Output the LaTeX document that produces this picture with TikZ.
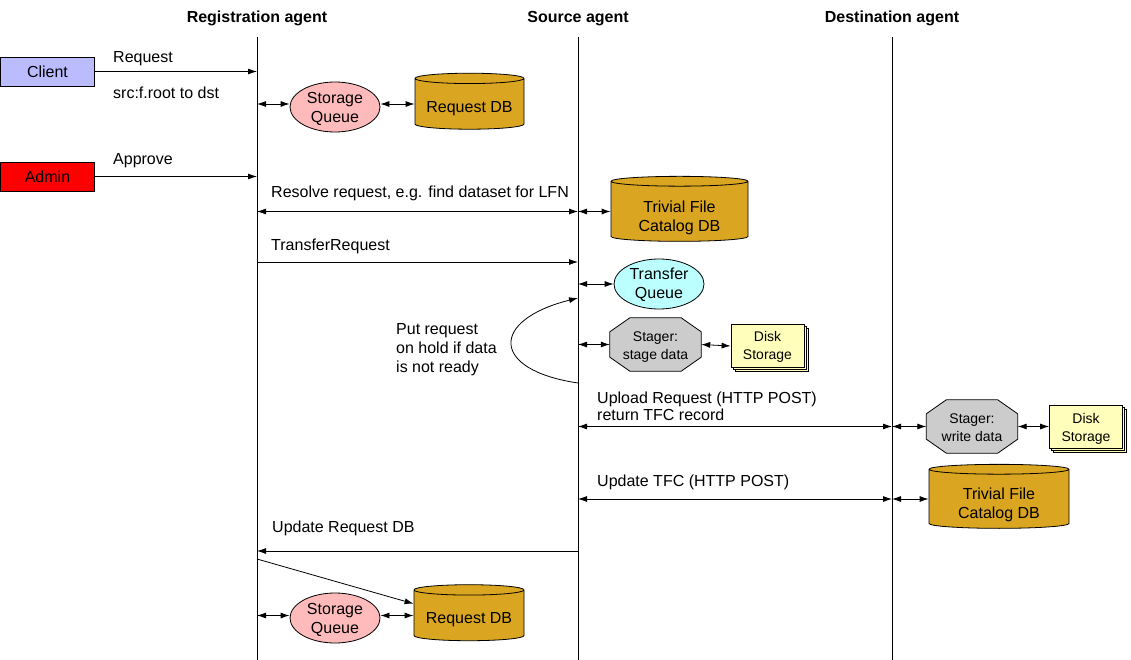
\documentclass[tikz,border=0pt]{standalone}
\usepackage{fontspec}
\setmainfont{Liberation Sans}
\usetikzlibrary{arrows.meta,shapes.geometric,shadows,calc,backgrounds}
\definecolor{clientblue}{HTML}{BBBBFF}
\definecolor{adminred}{HTML}{FF0000}
\definecolor{sqpink}{HTML}{FFBBBB}
\definecolor{dbgold}{HTML}{DAA520}
\definecolor{tqcyan}{HTML}{BBFFFF}
\definecolor{stgray}{HTML}{CCCCCC}
\definecolor{diskyel}{HTML}{FFFFBB}
\newcommand{\octfill}[1]{%
  \begin{scope}[on background layer]
  \filldraw[octo] ($(#1.north west)+(20,0)$) -- ($(#1.north east)+(-20,0)$)
    -- ($(#1.north east)+(0,14)$) -- ($(#1.south east)+(0,-14)$)
    -- ($(#1.south east)+(-20,0)$) -- ($(#1.south west)+(20,0)$)
    -- ($(#1.south west)+(0,-14)$) -- ($(#1.north west)+(0,14)$) -- cycle;
  \end{scope}}
\newcommand{\dtext}[2]{\raisebox{-#1pt}[0pt][0pt]{\begin{tabular}{@{}c@{}}#2\end{tabular}}}
\begin{document}
\begin{tikzpicture}[x=1pt,y=-1pt,
  every node/.style={font=\fontsize{16}{19}\selectfont, inner sep=0pt},
  lbl/.style={anchor=base west},
  hdr/.style={font=\fontsize{16}{19}\selectfont\bfseries, anchor=base},
  life/.style={line width=1pt},
  conn/.style={line width=0.8pt, -{Latex[length=9,width=6]}},
  bi/.style={line width=0.8pt, {Latex[length=9,width=6]}-{Latex[length=9,width=6]}},
  actor/.style={draw, line width=0.8pt, minimum width=94, minimum height=29},
  queue/.style={ellipse, draw, line width=0.8pt, minimum width=90, minimum height=50},
  db/.style={cylinder, shape border rotate=90, draw, line width=0.8pt, fill=dbgold, aspect=0.12},
  stager/.style={rectangle, minimum width=91, minimum height=53, font=\fontsize{14}{18}\selectfont},
  octo/.style={draw, line width=0.8pt, fill=stgray},
  disk/.style={draw, line width=0.8pt, fill=diskyel, minimum width=73, minimum height=43, font=\fontsize{14}{18}\selectfont, double copy shadow={shadow xshift=2pt, shadow yshift=-2pt}},
]
\useasboundingbox (0,0) rectangle (1131,660);

% headers and lifelines
\node[hdr] (hreg) at (257,23) {Registration agent};
\node[hdr] (hsrc) at (578,23) {Source agent};
\node[hdr] (hdst) at (892,23) {Destination agent};
\coordinate (rt) at (257,37); \coordinate (rb) at (257,660);
\coordinate (st) at (578,37); \coordinate (sb) at (578,660);
\coordinate (dt) at (892,37); \coordinate (db) at (892,660);
\draw[life] (rt) -- (rb);
\draw[life] (st) -- (sb);
\draw[life] (dt) -- (db);

% client and admin
\node[actor, fill=clientblue] (client) at (47.5,71.5) {Client};
\draw[conn] (client.east) -- (client.east -| rt);
\node[lbl] (lreq) at (113,63) {Request};
\node[lbl] (lsrc) at (113,99) {src:f.root to dst};

\node[actor, fill=adminred] (admin) at (47.5,176.5) {Admin};
\draw[conn] (admin.east) -- (admin.east -| rt);
\node[lbl] (lapp) at (113,165) {Approve};

% storage queue and request DB (top)
\node[queue, fill=sqpink] (sq1) at (335,107) {\dtext{6.5}{Storage\\Queue}};
\node[db, minimum width=109, minimum height=56] (rdb1) at (469.5,104) {\dtext{9}{Request DB}};
\draw[bi] (rdb1.west -| rt) -- (rdb1.west -| sq1.west);
\draw[bi] (rdb1.west -| sq1.east) -- (rdb1.west);

% resolve request
\node[lbl] (lres) at (271,198) {Resolve request, e.g. find dataset for LFN};
\node[db, minimum width=137, minimum height=65] (tfc1) at (679.5,211.5) {\dtext{11.4}{Trivial File\\Catalog DB}};
\draw[bi] (tfc1.west -| rt) -- (tfc1.west -| st);
\draw[bi] (tfc1.west -| st) -- (tfc1.west);

% transfer request
\node[lbl] (ltr) at (271,251) {TransferRequest};
\coordinate (treq) at (257,262);
\draw[conn] (treq) -- (treq -| st);

\node[queue, fill=tqcyan] (tq) at (659,284) {\dtext{5.9}{Transfer\\Queue}};
\draw[bi] (tq.west -| st) -- (tq.west);

% hold loop
\coordinate (h1) at (578,383);
\coordinate (h2) at (578,298);
\draw[conn] (h1) .. controls (490,370) and (490,320) .. (h2);
\node[anchor=west, align=left] (hold) at (396,349.5) {Put request\\on hold if data\\is not ready};

% stager source
\node[stager] (stg1) at (655.5,344.5) {\dtext{6.4}{Stager:\\stage data}};
\octfill{stg1}
\node[disk] (disk1) at (767.5,346) {\dtext{4.9}{Disk\\Storage}};
\draw[bi] (stg1.west -| st) -- (stg1.west);
\draw[bi] (stg1.east) -- (disk1.west);

% upload
\node[lbl] (lup1) at (597,403) {Upload Request (HTTP POST)};
\node[lbl] (lup2) at (597,420) {return TFC record};
\node[stager] (stg2) at (972,426.5) {\dtext{5.9}{Stager:\\write data}};
\octfill{stg2}
\node[disk] (disk2) at (1086,426.5) {\dtext{5.9}{Disk\\Storage}};
\draw[bi] (stg2.west -| st) -- (stg2.west -| dt);
\draw[bi] (stg2.west -| dt) -- (stg2.west);
\draw[bi] (stg2.east) -- (disk2.west);

% update TFC
\node[lbl] (lutfc) at (597,486) {Update TFC (HTTP POST)};
\node[db, minimum width=140, minimum height=64] (tfc2) at (999,499) {\dtext{10.9}{Trivial File\\Catalog DB}};
\draw[bi] (tfc2.west -| st) -- (tfc2.west -| dt);
\draw[bi] (tfc2.west -| dt) -- (tfc2.west);

% update request DB
\node[lbl] (lurd) at (272,532) {Update Request DB};
\coordinate (urd) at (578,551);
\draw[conn] (urd) -- (urd -| rt);
\coordinate (d1) at (257,559);

\node[queue, fill=sqpink] (sq2) at (335,618) {\dtext{7}{Storage\\Queue}};
\node[db, minimum width=110, minimum height=56] (rdb2) at (469,615.5) {\dtext{8.4}{Request DB}};
\draw[conn] (d1) -- (rdb2.168);
\draw[bi] (rdb2.west -| rt) -- (rdb2.west -| sq2.west);
\draw[bi] (rdb2.west -| sq2.east) -- (rdb2.west);
\end{tikzpicture}
\end{document}
